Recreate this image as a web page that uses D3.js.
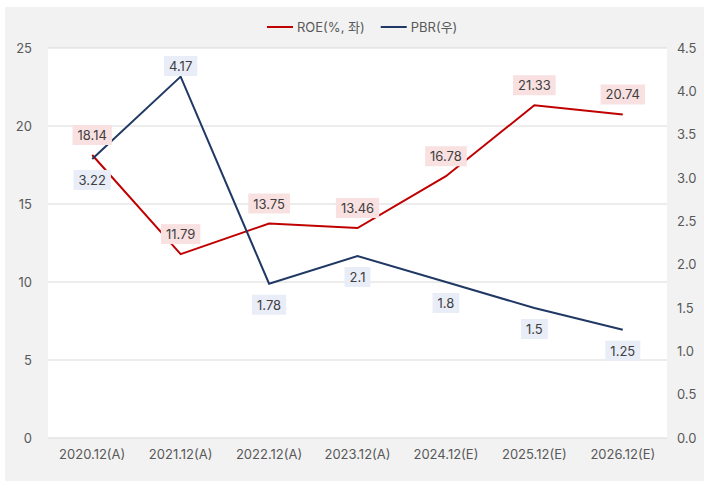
<!DOCTYPE html>
<html><head><meta charset="utf-8">
<script src="https://cdn.jsdelivr.net/npm/d3@7"></script>
<style>
html,body{margin:0;padding:0;background:#fff;}
text{font-family:Inter,"Noto Sans CJK KR",sans-serif;}
</style></head>
<body><svg id="c" width="710" height="486"></svg>
<script>
const categories = ["2020.12(A)","2021.12(A)","2022.12(A)","2023.12(A)","2024.12(E)","2025.12(E)","2026.12(E)"];
const roe = [18.14, 11.79, 13.75, 13.46, 16.78, 21.33, 20.74];
const pbr = [3.22, 4.17, 1.78, 2.1, 1.8, 1.5, 1.25];
const leftTicks = [0,5,10,15,20,25];
const rightTicks = [0,0.5,1,1.5,2,2.5,3,3.5,4,4.5];
const seriesNames = ["ROE(%, 좌)", "PBR(우)"];

const FONT = "Inter, 'Noto Sans CJK KR', sans-serif";
const svg = d3.select("#c");
const m = {l:48, r:667, t:48, b:438};
svg.append("rect").attr("x",5).attr("y",7).attr("width",699).attr("height",474).attr("fill","#f2f2f2");
svg.append("rect").attr("x",m.l).attr("y",m.t).attr("width",m.r-m.l).attr("height",m.b-m.t).attr("fill","#fff");

const x = d3.scaleBand().domain(categories).range([m.l,m.r]);
const yL = d3.scaleLinear().domain([0,25]).range([m.b,m.t]);
const yR = d3.scaleLinear().domain([0,4.5]).range([m.b,m.t]);
const cx = d => x(d)+x.bandwidth()/2;

svg.append("g").selectAll("line").data(leftTicks).join("line")
  .attr("x1",m.l).attr("x2",m.r).attr("y1",d=>yL(d)).attr("y2",d=>yL(d))
  .attr("stroke","#d9d9d9").attr("stroke-width",1);

const axL = svg.append("g").attr("transform",`translate(${m.l},0)`)
  .call(d3.axisLeft(yL).tickValues(leftTicks).tickSize(0).tickPadding(16));
const axR = svg.append("g").attr("transform",`translate(${m.r},0)`)
  .call(d3.axisRight(yR).tickValues(rightTicks).tickFormat(d3.format(".1f")).tickSize(0).tickPadding(10));
const axB = svg.append("g").attr("transform",`translate(0,${m.b})`)
  .call(d3.axisBottom(x).tickSize(0).tickPadding(12));
[axL,axR,axB].forEach(a=>{a.select(".domain").remove();a.selectAll("text").attr("font-size",13).attr("fill","#595959").attr("font-family",FONT);});

const lineL = d3.line().x((d,i)=>cx(categories[i])).y(d=>yL(d));
const lineR = d3.line().x((d,i)=>cx(categories[i])).y(d=>yR(d));
svg.append("path").attr("d",lineL(roe)).attr("fill","none").attr("stroke","#c00000").attr("stroke-width",2);
svg.append("path").attr("d",lineR(pbr)).attr("fill","none").attr("stroke","#203864").attr("stroke-width",2);

function label(txt, px, py, bg){
  const g = svg.append("g");
  const t = g.append("text").attr("x",px).attr("y",py).attr("text-anchor","middle")
    .attr("dominant-baseline","central").attr("font-size",13).attr("fill","#404040").text(txt);
  const bb = t.node().getBBox();
  g.insert("rect","text").attr("x",bb.x-5).attr("y",py-10).attr("width",bb.width+10).attr("height",20).attr("fill",bg);
}
roe.forEach((v,i)=>label(String(v), cx(categories[i]), yL(v)-20, "#f9e1e1"));
const pmax = d3.max(pbr);
pbr.forEach((v,i)=>{
  let py = v===pmax ? Math.max(m.t+18, yR(v)-20) : yR(v)+21;
  label(String(v), cx(categories[i]), py, "#e9edf7");
});

const lg = svg.append("g");
const lcol = ["#c00000","#203864"];
let lx = 267;
seriesNames.forEach((n,i)=>{
  lg.append("line").attr("x1",lx).attr("x2",lx+26).attr("y1",27).attr("y2",27).attr("stroke",lcol[i]).attr("stroke-width",2);
  const t = lg.append("text").attr("x",lx+30).attr("y",27).attr("dominant-baseline","central")
    .attr("font-size",13).attr("fill","#595959").text(n);
  lx = lx + 30 + t.node().getComputedTextLength() + 16;
});
</script></body></html>
